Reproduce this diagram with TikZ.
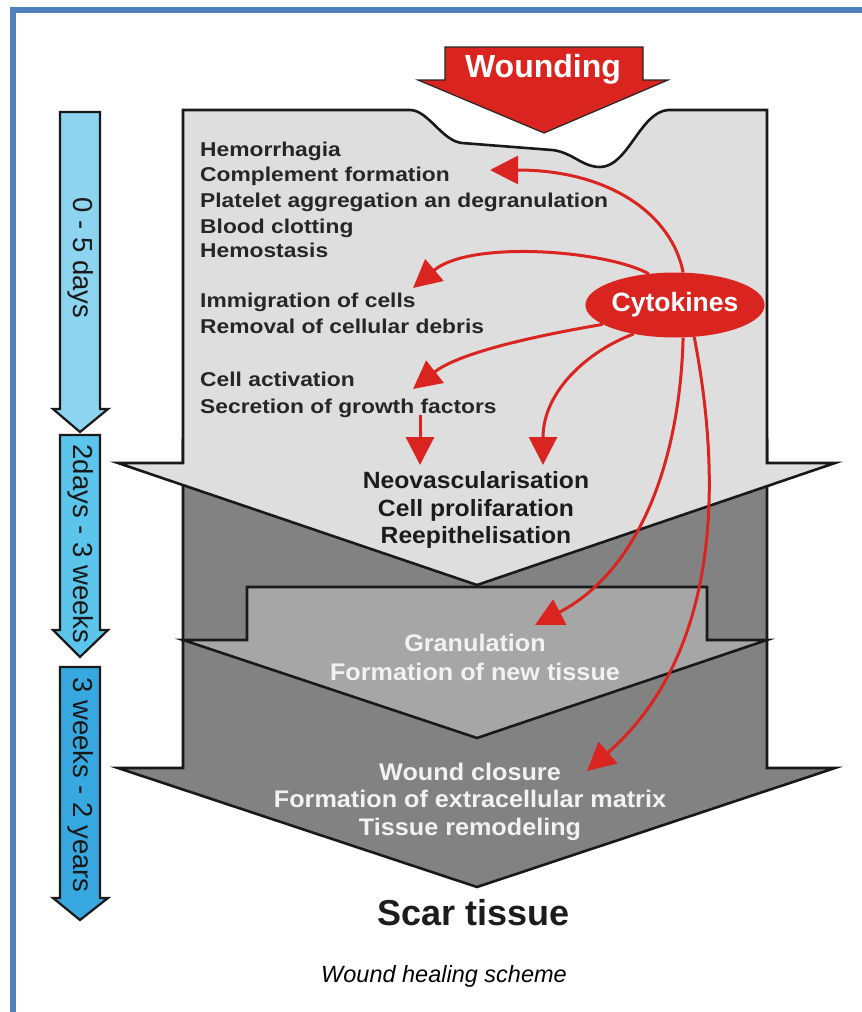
\documentclass[tikz,border=0pt]{standalone}
\usepackage{fontspec}
\setmainfont{Liberation Sans}
\newfontfamily\wideA[FakeStretch=1.14]{Liberation Sans}
\newfontfamily\wideB[FakeStretch=1.05]{Liberation Sans}
\usetikzlibrary{arrows.meta,shapes.geometric}
\definecolor{framecol}{HTML}{4F81BD}
\definecolor{redc}{HTML}{DA2420}
\definecolor{lightg}{HTML}{DEDEDE}
\definecolor{midg}{HTML}{A6A6A6}
\definecolor{darkg}{HTML}{828282}
\definecolor{tlone}{HTML}{8DD4F1}
\definecolor{tltwo}{HTML}{5CC5EB}
\definecolor{tlthree}{HTML}{38A8E0}
\definecolor{txtone}{HTML}{262626}
\definecolor{txttwo}{HTML}{1C1C1C}
\definecolor{txtw}{HTML}{F2F2F2}
\begin{document}
\begin{tikzpicture}[x=1pt,y=-1pt,
  outl/.style={draw=black!90, line width=2.6pt, line join=miter},
  conn/.style={draw=redc, line width=3pt, -{Triangle[length=28pt,width=28pt]}},
  sone/.style={anchor=base west, inner sep=0pt, text=txtone, font=\wideA\bfseries\fontsize{20}{24}\selectfont},
  stwo/.style={anchor=base, inner sep=0pt, text=txttwo, font=\wideB\bfseries\fontsize{23.5}{28}\selectfont},
  sthree/.style={anchor=base, inner sep=0pt, text=txtw, font=\wideB\bfseries\fontsize{24}{28}\selectfont},
  tlarrow/.style={draw=black!90, line width=2.2pt, line join=miter},
  tltext/.style={rotate=-90, inner sep=0pt, text=black!90, font=\fontsize{27.5}{32}\selectfont}
]
\useasboundingbox (0,0) rectangle (862,1012);
\fill[white] (0,0) rectangle (862,1012);
% frame
\draw[framecol, line width=6pt, line join=miter] (13,1012) -- (13,10) -- (862,10);

% timeline arrows
\draw[tlarrow, fill=tlone] (60,112) -- (100,112) -- (100,409) -- (108,409) -- (80,432) -- (53,409) -- (60,409) -- cycle;
\draw[tlarrow, fill=tltwo] (60,435) -- (100,435) -- (100,630) -- (108,630) -- (80,657) -- (53,630) -- (60,630) -- cycle;
\draw[tlarrow, fill=tlthree] (60,667) -- (100,667) -- (100,898) -- (108,898) -- (80,920) -- (53,898) -- (60,898) -- cycle;
\node[tltext] (tla) at (81,258) {0 - 5 days};
\node[tltext] (tlb) at (81,544) {2days - 3 weeks};
\node[tltext] (tlc) at (81,785) {3 weeks - 2 years};

% big dark arrow (stage 2 / 4)
\draw[outl, fill=darkg] (183,440) -- (183,768) -- (118,768) -- (477,887) -- (835,768) -- (767,768) -- (767,440) -- cycle;
% stage 3 arrow
\draw[outl, fill=midg] (247,587) -- (707,587) -- (707,640) -- (767,640) -- (477,738) -- (183,640) -- (247,640) -- cycle;
% stage 1 arrow with the wound notch
\draw[outl, fill=lightg] (183,110) -- (410,110)
  .. controls (428,110) and (442,141) .. (462,143) -- (552,150)
  .. controls (572,152) and (582,167) .. (600,167)
  .. controls (628,167) and (640,112) .. (668,110)
  -- (767,110) -- (767,463) -- (835,463) -- (477,585) -- (118,463) -- (183,463) -- cycle;

% wounding arrow
\draw[draw=black!85, line width=1.2pt, fill=redc, line join=miter] (445,47) -- (643,47) -- (643,80) -- (668,80) -- (544,133) -- (418,80) -- (445,80) -- cycle;
\node[inner sep=0pt, text=white, font=\bfseries\fontsize{32}{36}\selectfont] (wound) at (543,69) {Wounding};

% stage 1 texts
\node[sone] (h1) at (200,156) {Hemorrhagia};
\node[sone] (h2) at (200,181) {Complement formation};
\node[sone] (h3) at (200,207) {Platelet aggregation an degranulation};
\node[sone] (h4) at (200,233) {Blood clotting};
\node[sone] (h5) at (200,257) {Hemostasis};
\node[sone] (i1) at (200,307) {Immigration of cells};
\node[sone] (i2) at (200,333) {Removal of cellular debris};
\node[sone] (c1) at (200,386) {Cell activation};
\node[sone] (c2) at (200,413) {Secretion of growth factors};

% stage 2 texts
\node[stwo] (n1) at (476,488) {Neovascularisation};
\node[stwo] (n2) at (476,516) {Cell prolifaration};
\node[stwo] (n3) at (476,543) {Reepithelisation};

% stage 3 texts
\node[sthree] (g1) at (475,651) {Granulation};
\node[sthree] (g2) at (475,680) {Formation of new tissue};

% stage 4 texts
\node[sthree] (w1) at (470,780) {Wound closure};
\node[sthree] (w2) at (470,807) {Formation of extracellular matrix};
\node[sthree] (w3) at (470,835) {Tissue remodeling};

% scar tissue and caption
\node[anchor=base, inner sep=0pt, text=txttwo, font=\bfseries\fontsize{36}{40}\selectfont] (scar) at (474,925) {Scar tissue};
\node[anchor=base, inner sep=0pt, text=black, font=\itshape\fontsize{23.5}{28}\selectfont] (cap) at (444,982) {Wound healing scheme};

% cytokines
\node[ellipse, fill=redc, minimum width=145pt, minimum height=65pt, inner sep=0pt, text=white, font=\bfseries\fontsize{26.5}{30}\selectfont] (cyt) at (675,305) {Cytokines};

% arrow end points
\coordinate (t1) at (490,170);
\coordinate (t2) at (413,288);
\coordinate (t3) at (413,389);
\coordinate (d1) at (420,415);
\coordinate (t4) at (420,465);
\coordinate (t5) at (543,465);
\coordinate (t6) at (535,625);
\coordinate (t7) at (587,771);

\draw[conn] (cyt.76) .. controls (672,215) and (610,170) .. (t1);
\draw[conn] (cyt.130) .. controls (605,250) and (470,240) .. (t2);
\draw[conn] (cyt.195) .. controls (540,335) and (460,352) .. (t3);
\draw[conn] (d1) -- (t4);
\draw[conn] (cyt.215) .. controls (590,350) and (543,390) .. (t5);
\draw[conn] (cyt.-76) .. controls (680,460) and (640,570) .. (t6);
\draw[conn] (cyt.-59) .. controls (720,470) and (725,650) .. (t7);
\end{tikzpicture}
\end{document}
